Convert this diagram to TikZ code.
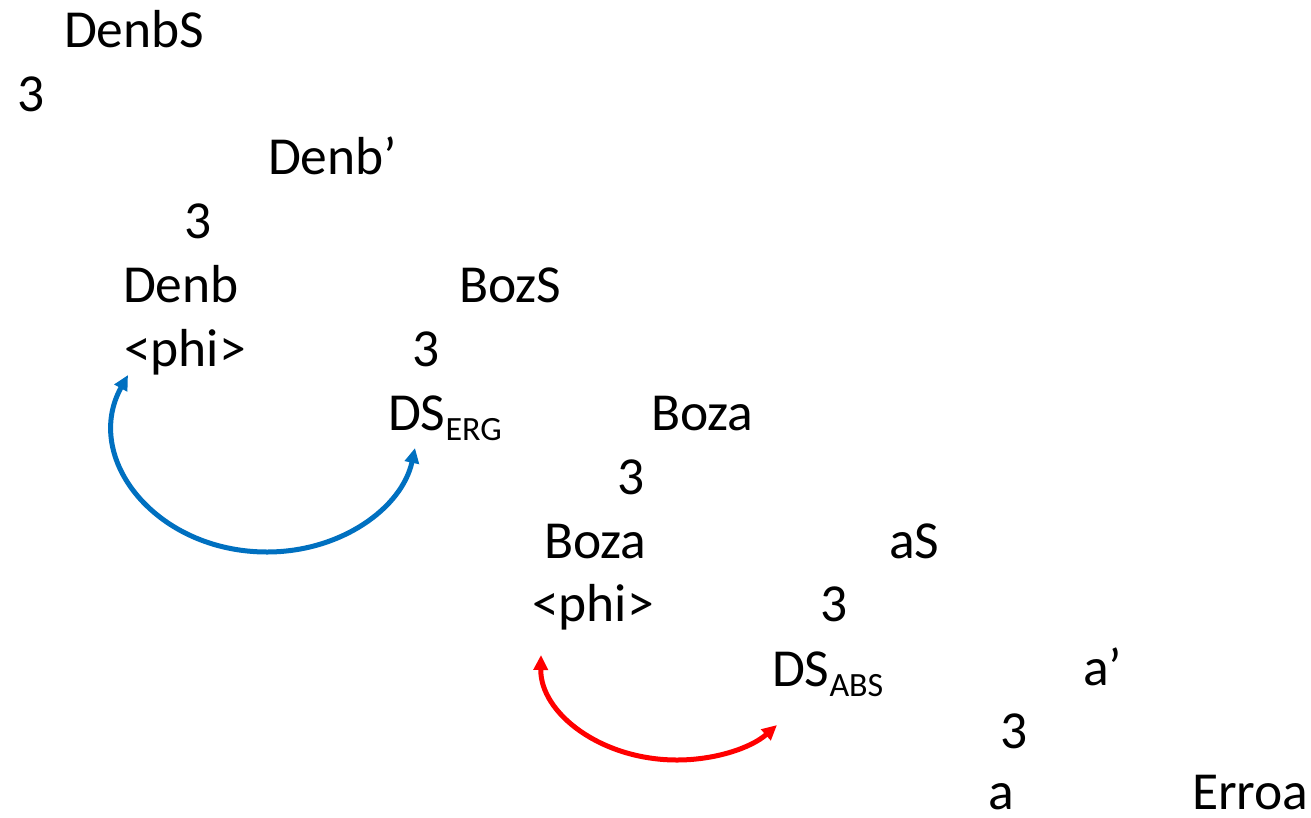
\documentclass[tikz,border=0pt]{standalone}
\usepackage{fontspec}
\setmainfont{Carlito}
\usetikzlibrary{arrows.meta}
\definecolor{arcblue}{RGB}{0,112,192}
\definecolor{arcred}{RGB}{255,0,0}
\newcommand{\subtxt}[1]{\raisebox{-0.2em}{\fontsize{34}{34}\selectfont #1}}
\begin{document}
\begin{tikzpicture}[x=1pt,y=-1pt,
  lbl/.style={anchor=base west,inner sep=0pt,outer sep=0pt,font=\fontsize{53.5}{64}\selectfont},
  arc/.style={line width=5pt,{Triangle[length=15pt,width=14pt]}-{Triangle[length=15pt,width=14pt]}}]
\useasboundingbox (0,0) rectangle (1311,817);
\node[lbl] (r1) at (64,47) {DenbS};
\node[lbl] (n1) at (17,111) {3};
\node[lbl] (r2) at (268,174) {Denb’};
\node[lbl] (n2) at (184,238) {3};
\node[lbl] (d1) at (123,302) {Denb};
\node[lbl] (p1) at (124,366) {<phi>};
\node[lbl] (b1) at (459,302) {BozS};
\node[lbl] (n3) at (412,366) {3};
\node[lbl] (ds1) at (388,430) {DS\subtxt{ERG}};
\node[lbl] (b2) at (651,430) {Boza};
\node[lbl] (n4) at (617,494) {3};
\node[lbl] (b3) at (544,558) {Boza};
\node[lbl] (p2) at (532,621) {<phi>};
\node[lbl] (a1) at (889,558) {aS};
\node[lbl] (n5) at (820,621) {3};
\node[lbl] (ds2) at (772,686) {DS\subtxt{ABS}};
\node[lbl] (a2) at (1083,685) {a’};
\node[lbl] (n6) at (1000,748) {3};
\node[lbl] (a3) at (988,809) {a};
\node[lbl] (e1) at (1192,809) {Erroa};
% blue arc
\coordinate (bs) at (128,375);
\coordinate (bm) at (267,552);
\coordinate (be) at (415,448);
\draw[arc,arcblue] (bs) .. controls (82,458) and (156,552) .. (bm)
  .. controls (341,552) and (402,508) .. (be);
% red arc
\coordinate (rs) at (541,655);
\coordinate (rm) at (677,760);
\coordinate (re) at (777,725);
\draw[arc,arcred] (rs) .. controls (540,713) and (601,760) .. (rm)
  .. controls (715,760) and (751,748) .. (re);
\end{tikzpicture}
\end{document}
